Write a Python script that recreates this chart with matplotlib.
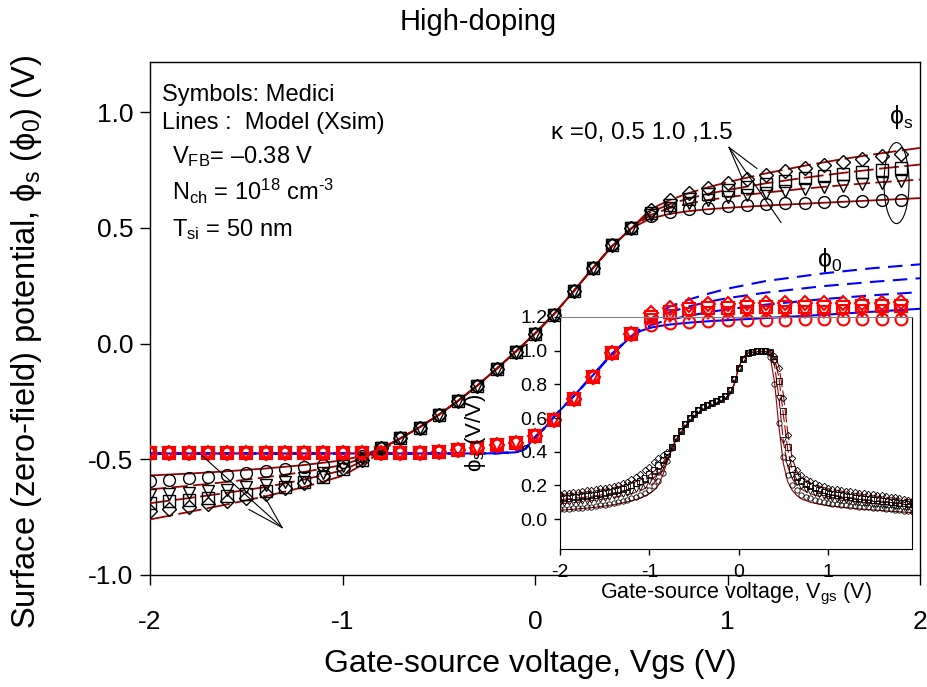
import numpy as np
import matplotlib
matplotlib.use("Agg")
import matplotlib.pyplot as plt
from matplotlib.patches import Ellipse
from matplotlib.ticker import FormatStrFormatter

plt.rcParams['font.family'] = ['Liberation Sans', 'DejaVu Sans']
plt.rcParams['mathtext.fontset'] = 'custom'
plt.rcParams['mathtext.rm'] = 'Liberation Sans'
plt.rcParams['mathtext.it'] = 'Liberation Sans:italic'
plt.rcParams['axes.unicode_minus'] = False

# ---- main plot: surface / zero-field potential vs Vgs ----
kappas = [0, 0.5, 1.0, 1.5]
symbols = ['o', 'v', 's', 'D']

# Medici phi_s markers, every 0.1 V
vgs_left = np.round(np.arange(-2.0, -0.85, 0.1), 2)     # -2.0 .. -0.9
vgs_mid = np.round(np.arange(-0.8, 0.55, 0.1), 2)       # -0.8 .. 0.5
vgs_right = np.round(np.arange(0.6, 1.95, 0.1), 2)      # 0.6 .. 1.9
phis_left = [
    [-0.592, -0.588, -0.582, -0.576, -0.568, -0.560, -0.550, -0.541, -0.534, -0.525, -0.512, -0.485],
    [-0.655, -0.650, -0.644, -0.638, -0.631, -0.622, -0.610, -0.597, -0.580, -0.558, -0.530, -0.495],
    [-0.690, -0.682, -0.675, -0.668, -0.660, -0.650, -0.637, -0.620, -0.600, -0.575, -0.543, -0.502],
    [-0.722, -0.714, -0.708, -0.695, -0.682, -0.668, -0.648, -0.625, -0.602, -0.572, -0.538, -0.505],
]
phis_mid = [-0.450, -0.410, -0.363, -0.310, -0.250, -0.183, -0.112, -0.037, 0.040, 0.125, 0.225, 0.325, 0.425, 0.500]
phis_right = [
    [0.550, 0.570, 0.580, 0.587, 0.592, 0.597, 0.601, 0.605, 0.608, 0.611, 0.614, 0.617, 0.620, 0.622],
    [0.555, 0.585, 0.605, 0.620, 0.632, 0.642, 0.651, 0.659, 0.667, 0.674, 0.681, 0.688, 0.694, 0.700],
    [0.565, 0.600, 0.625, 0.645, 0.662, 0.677, 0.690, 0.702, 0.713, 0.723, 0.733, 0.742, 0.751, 0.760],
    [0.578, 0.618, 0.648, 0.672, 0.693, 0.711, 0.728, 0.744, 0.759, 0.772, 0.785, 0.797, 0.808, 0.818],
]

# Medici phi_0 markers
vgs_flat = np.round(np.arange(-2.0, 0.55, 0.1), 2)      # -2.0 .. 0.5
phi0_flat = [-0.472, -0.472, -0.472, -0.472, -0.472, -0.472, -0.472, -0.472, -0.472, -0.472,
             -0.472, -0.472, -0.472, -0.472, -0.471, -0.468, -0.462, -0.452, -0.440, -0.428,
             -0.400, -0.330, -0.240, -0.145, -0.042, 0.040]
phi0_right = [
    [0.078, 0.088, 0.094, 0.098, 0.100, 0.101, 0.102, 0.103, 0.104, 0.105, 0.106, 0.106, 0.107, 0.108],
    [0.100, 0.118, 0.126, 0.130, 0.133, 0.135, 0.136, 0.137, 0.138, 0.138, 0.139, 0.139, 0.140, 0.140],
    [0.115, 0.137, 0.147, 0.152, 0.155, 0.156, 0.157, 0.158, 0.158, 0.159, 0.159, 0.160, 0.160, 0.160],
    [0.130, 0.155, 0.165, 0.170, 0.172, 0.173, 0.174, 0.175, 0.175, 0.176, 0.176, 0.177, 0.177, 0.178],
]

# Xsim model phi_s lines
mvs_left = [-2.0, -1.8, -1.6, -1.4, -1.2, -1.0, -0.9, -0.8]
mvs_mid = [-0.7, -0.6, -0.5, -0.4, -0.3, -0.2, -0.1, 0.0, 0.1, 0.2, 0.3, 0.4, 0.5]
mvs_right = [0.6, 0.7, 0.8, 0.9, 1.0, 1.2, 1.4, 1.6, 1.8, 2.0]
mphis_left = [
    [-0.570, -0.562, -0.552, -0.540, -0.525, -0.505, -0.485, -0.452],
    [-0.630, -0.615, -0.598, -0.578, -0.555, -0.525, -0.497, -0.457],
    [-0.690, -0.668, -0.645, -0.620, -0.588, -0.548, -0.510, -0.462],
    [-0.760, -0.728, -0.695, -0.660, -0.620, -0.572, -0.525, -0.468],
]
mphis_mid = [-0.410, -0.362, -0.308, -0.248, -0.182, -0.110, -0.035, 0.043, 0.128, 0.225, 0.325, 0.420, 0.497]
mphis_right = [
    [0.540, 0.560, 0.572, 0.580, 0.586, 0.596, 0.604, 0.612, 0.620, 0.628],
    [0.555, 0.585, 0.605, 0.620, 0.632, 0.652, 0.669, 0.684, 0.697, 0.708],
    [0.567, 0.602, 0.627, 0.647, 0.663, 0.692, 0.716, 0.737, 0.756, 0.773],
    [0.580, 0.620, 0.650, 0.675, 0.697, 0.735, 0.768, 0.797, 0.822, 0.845],
]

# Xsim model phi_0 lines
mv0_common = [-2.0, -1.0, -0.5, -0.3, -0.2, -0.1, -0.05, 0.0, 0.05, 0.1, 0.2, 0.3, 0.4, 0.5]
mphi0_common = [-0.475, -0.475, -0.475, -0.475, -0.474, -0.470, -0.455, -0.405, -0.365, -0.315,
                -0.228, -0.138, -0.045, 0.030]
mv0_right = [0.55, 0.6, 0.65, 0.7, 0.8, 0.9, 1.0, 1.2, 1.5, 1.75, 2.0]
mphi0_right = [
    [0.055, 0.068, 0.076, 0.082, 0.090, 0.096, 0.101, 0.110, 0.124, 0.137, 0.150],
    [0.060, 0.078, 0.092, 0.103, 0.120, 0.135, 0.148, 0.168, 0.192, 0.208, 0.222],
    [0.064, 0.095, 0.118, 0.135, 0.160, 0.180, 0.196, 0.220, 0.248, 0.266, 0.282],
    [0.068, 0.105, 0.135, 0.160, 0.190, 0.215, 0.237, 0.270, 0.303, 0.325, 0.342],
]

# ---- inset: d(phi_s)/dVgs ----
ivs_left = np.round(np.arange(-2.0, -0.74, 0.05), 2)    # -2.00 .. -0.75
ivs_mid = np.round(np.arange(-0.7, 0.31, 0.05), 2)      # -0.70 .. 0.30
ivs_right = np.round(np.arange(0.35, 1.96, 0.05), 2)    # 0.35 .. 1.95
dphi_left = [
    [0.058, 0.060, 0.062, 0.064, 0.066, 0.068, 0.071, 0.074, 0.077, 0.081, 0.085, 0.090, 0.095,
     0.100, 0.107, 0.114, 0.122, 0.132, 0.143, 0.156, 0.172, 0.195, 0.225, 0.275, 0.345, 0.420],
    [0.095, 0.097, 0.099, 0.101, 0.104, 0.107, 0.110, 0.113, 0.117, 0.121, 0.125, 0.130, 0.135,
     0.141, 0.148, 0.156, 0.165, 0.176, 0.189, 0.205, 0.225, 0.250, 0.280, 0.320, 0.370, 0.425],
    [0.120, 0.122, 0.125, 0.128, 0.131, 0.134, 0.137, 0.141, 0.145, 0.150, 0.155, 0.160, 0.166,
     0.172, 0.180, 0.189, 0.200, 0.213, 0.228, 0.245, 0.265, 0.290, 0.318, 0.350, 0.385, 0.428],
    [0.150, 0.153, 0.156, 0.159, 0.162, 0.166, 0.170, 0.174, 0.178, 0.182, 0.186, 0.192, 0.198,
     0.205, 0.213, 0.222, 0.236, 0.252, 0.270, 0.290, 0.312, 0.340, 0.360, 0.378, 0.400, 0.430],
]
dphi_mid = [0.480, 0.525, 0.565, 0.600, 0.625, 0.648, 0.665, 0.678, 0.690, 0.702, 0.715, 0.730,
            0.765, 0.830, 0.900, 0.950, 0.985, 0.995, 0.998, 0.998, 0.997]
dphi_right = [
    [0.960, 0.800, 0.570, 0.370, 0.260, 0.205, 0.170, 0.145, 0.132, 0.122, 0.114, 0.107, 0.101,
     0.096, 0.092, 0.088, 0.085, 0.082, 0.079, 0.076, 0.074, 0.071, 0.069, 0.067, 0.065, 0.063,
     0.061, 0.058, 0.056, 0.053, 0.050, 0.046, 0.043],
    [0.985, 0.930, 0.720, 0.470, 0.330, 0.260, 0.220, 0.195, 0.178, 0.165, 0.155, 0.146, 0.138,
     0.131, 0.125, 0.120, 0.115, 0.111, 0.107, 0.103, 0.100, 0.097, 0.094, 0.091, 0.088, 0.086,
     0.083, 0.081, 0.078, 0.076, 0.073, 0.070, 0.067],
    [0.990, 0.950, 0.820, 0.640, 0.430, 0.300, 0.250, 0.225, 0.208, 0.194, 0.182, 0.172, 0.163,
     0.156, 0.150, 0.145, 0.140, 0.135, 0.131, 0.127, 0.123, 0.120, 0.117, 0.114, 0.111, 0.108,
     0.105, 0.103, 0.100, 0.098, 0.095, 0.092, 0.090],
    [0.995, 0.970, 0.900, 0.720, 0.500, 0.360, 0.290, 0.260, 0.240, 0.225, 0.212, 0.202, 0.194,
     0.187, 0.181, 0.176, 0.172, 0.168, 0.164, 0.160, 0.156, 0.153, 0.150, 0.146, 0.143, 0.140,
     0.136, 0.133, 0.128, 0.124, 0.120, 0.116, 0.112],
]

# inset model lines
imv = [-2.0, -1.8, -1.6, -1.4, -1.2, -1.1, -1.0, -0.95, -0.9, -0.85, -0.8, -0.75, -0.7,
       -0.6, -0.5, -0.4, -0.3, -0.2, -0.15, -0.1, -0.05, 0.0, 0.05, 0.1, 0.2, 0.3,
       0.35, 0.4, 0.45, 0.5, 0.55, 0.6, 0.65, 0.7, 0.8, 0.9, 1.0, 1.2, 1.4, 1.6, 1.8, 1.95]
imd_left = [
    [0.052, 0.060, 0.070, 0.085, 0.108, 0.125, 0.150, 0.170, 0.200, 0.260, 0.340, 0.410, 0.470],
    [0.090, 0.100, 0.112, 0.128, 0.150, 0.168, 0.195, 0.215, 0.245, 0.290, 0.350, 0.415, 0.470],
    [0.115, 0.125, 0.138, 0.155, 0.180, 0.198, 0.225, 0.245, 0.272, 0.310, 0.360, 0.418, 0.470],
    [0.145, 0.155, 0.168, 0.185, 0.212, 0.232, 0.262, 0.282, 0.305, 0.335, 0.375, 0.425, 0.472],
]
imd_mid = [0.550, 0.610, 0.650, 0.675, 0.700, 0.715, 0.740, 0.800, 0.900, 0.960, 0.985, 0.995, 0.995]
imd_right = [
    [0.970, 0.820, 0.550, 0.330, 0.220, 0.170, 0.140, 0.120, 0.100, 0.088, 0.080, 0.068, 0.058, 0.050, 0.043, 0.038],
    [0.990, 0.920, 0.720, 0.460, 0.310, 0.240, 0.200, 0.178, 0.150, 0.135, 0.124, 0.108, 0.096, 0.086, 0.077, 0.071],
    [0.995, 0.960, 0.840, 0.620, 0.410, 0.290, 0.235, 0.208, 0.178, 0.160, 0.148, 0.130, 0.117, 0.106, 0.097, 0.091],
    [0.998, 0.980, 0.910, 0.740, 0.510, 0.360, 0.285, 0.250, 0.215, 0.195, 0.180, 0.160, 0.145, 0.132, 0.120, 0.112],
]

darkred = '#990000'
line_styles = ['-', (0, (9, 3)), (0, (11, 3)), (0, (13, 3))]
blue_styles = ['-', (0, (7, 4)), (0, (7, 4)), (0, (7, 4))]

fig = plt.figure(figsize=(9.27, 6.87), dpi=100)
ax = fig.add_axes([150 / 927, 1 - 575 / 687, 770 / 927, 513 / 687])

for k in range(4):
    # model phi_s
    xm = mvs_left + mvs_mid + mvs_right
    ym = mphis_left[k] + mphis_mid + mphis_right[k]
    ax.plot(xm, ym, color=darkred, lw=1.3, linestyle=line_styles[k], zorder=3)
    # model phi_0
    xb = mv0_common + mv0_right
    yb = mphi0_common + mphi0_right[k]
    ax.plot(xb, yb, color='blue', lw=1.5, linestyle=blue_styles[k], zorder=3)

for k in range(4):
    xs = np.concatenate([vgs_left, vgs_mid, vgs_right])
    ys = phis_left[k] + phis_mid + phis_right[k]
    ax.plot(xs, ys, linestyle='none', marker=symbols[k], ms=8.5 if symbols[k] != 'D' else 7.5,
            mfc='none', mec='black', mew=1.0, zorder=4)
    x0 = np.concatenate([vgs_flat, vgs_right])
    y0 = phi0_flat + phi0_right[k]
    ax.plot(x0, y0, linestyle='none', marker=symbols[k], ms=8.5 if symbols[k] != 'D' else 7.5,
            mfc='none', mec='red', mew=1.5, zorder=4)

ax.set_xlim(-2, 2)
ax.set_ylim(-1.0, 1.216)
ax.set_xticks([-2, -1, 0, 1, 2])
ax.set_yticks([-1.0, -0.5, 0.0, 0.5, 1.0])
ax.yaxis.set_major_formatter(FormatStrFormatter('%.1f'))
ax.tick_params(direction='out', length=7, width=1, labelsize=19)
ax.tick_params(axis='x', pad=18)
ax.tick_params(axis='y', pad=5)
for sp in ax.spines.values():
    sp.set_linewidth(1.0)

# text block
ax.text(0.016, 0.936, 'Symbols: Medici', transform=ax.transAxes, fontsize=17, va='center')
ax.text(0.016, 0.881, 'Lines :  Model (Xsim)', transform=ax.transAxes, fontsize=17, va='center')
ax.text(0.029, 0.815, r'V$_{\rm FB}$= –0.38 V', transform=ax.transAxes, fontsize=17, va='center')
ax.text(0.029, 0.748, r'N$_{\rm ch}$ = 10$^{\rm 18}$ cm$^{\text{-3}}$', transform=ax.transAxes,
        fontsize=17, va='center')
ax.text(0.029, 0.673, r'T$_{\rm si}$ = 50 nm', transform=ax.transAxes, fontsize=17, va='center')

ax.text(0.083, 0.911, 'κ =0, 0.5 1.0 ,1.5', fontsize=17.5, va='center')
ax.text(1.839, 0.98, r'ϕ$_{\rm s}$', fontsize=18, va='center')
ax.text(1.465, 0.36, r'ϕ$_{\rm 0}$', fontsize=18, va='center')

# pointer lines
for xe, ye in [(1.153, 0.756), (1.075, 0.717), (1.278, 0.523)]:
    ax.plot([1.008, xe], [0.847, ye], color='black', lw=0.8, zorder=5)
for xe, ye in [(-1.73, -0.484), (-1.486, -0.717), (-1.408, -0.657)]:
    ax.plot([-1.314, xe], [-0.795, ye], color='black', lw=0.8, zorder=5)
ax.add_patch(Ellipse((1.878, 0.693), 0.13, 0.35, fill=False, color='black', lw=0.8, zorder=5))

fig.text(478 / 927, 1 - 22 / 687, 'High-doping', ha='center', va='center', fontsize=21)
fig.text(530 / 927, 1 - 664 / 687, 'Gate-source voltage, Vgs (V)', ha='center', va='center',
         fontsize=23)
fig.text(27 / 927, 1 - 342 / 687, r'Surface (zero-field) potential, ϕ$_{\rm s}$ (ϕ$_{\rm 0}$) (V)',
         ha='center', va='center', rotation=90, fontsize=23.5)

# inset
ax2 = fig.add_axes([560 / 927, 1 - 549 / 687, 352 / 927, 232 / 687])
ax2.set_facecolor('none')
for k in range(4):
    xi = imv
    yi = imd_left[k] + imd_mid + imd_right[k]
    ax2.plot(xi, yi, color=darkred, lw=0.8, linestyle=line_styles[k], zorder=3)
for k in range(4):
    xd = np.concatenate([ivs_left, ivs_mid, ivs_right])
    yd = dphi_left[k] + dphi_mid + dphi_right[k]
    ax2.plot(xd, yd, linestyle='none', marker=symbols[k], ms=3.8 if symbols[k] != 'D' else 3.3,
             mfc='none', mec='black', mew=0.6, zorder=4)
ax2.set_xlim(-2, 1.94)
ax2.set_ylim(-0.178, 1.2)
ax2.set_xticks([-2, -1, 0, 1])
ax2.set_yticks([0.0, 0.2, 0.4, 0.6, 0.8, 1.0, 1.2])
ax2.yaxis.set_major_formatter(FormatStrFormatter('%.1f'))
ax2.tick_params(direction='out', length=4, width=1, labelsize=14)
ax2.tick_params(axis='x', pad=7)
ax2.tick_params(axis='y', pad=5)
ax2.spines['top'].set_color('#808080')
ax2.set_xlabel(r'Gate-source voltage, V$_{\rm gs}$ (V)', fontsize=15.5, labelpad=0)
ax2.set_ylabel(r'ϕ$_{\rm s}$ (V/V)', fontsize=16)
ax2.yaxis.set_label_coords(-0.205, 0.5)

fig.savefig('out.png', dpi=100)
